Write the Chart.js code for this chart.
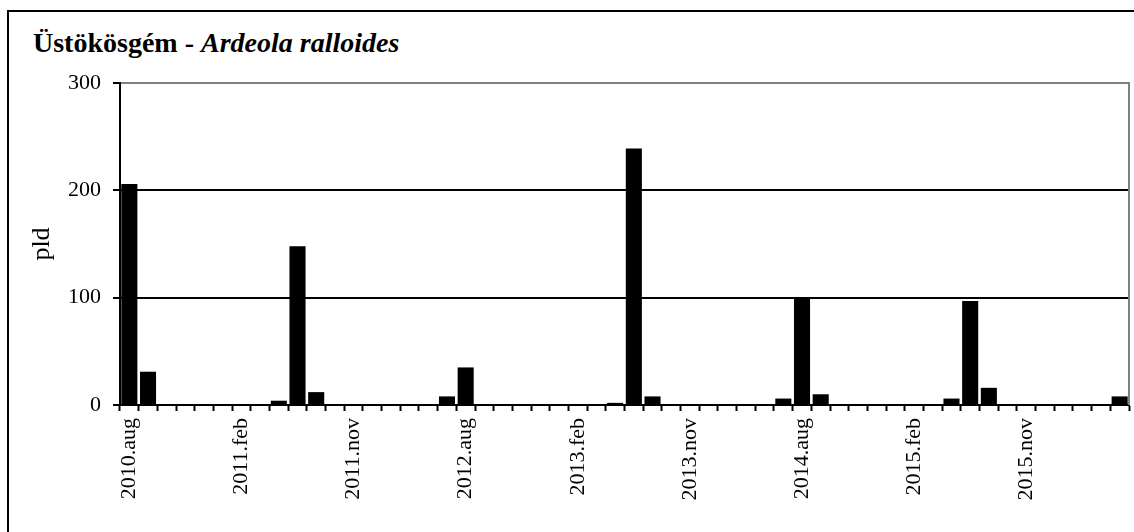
<!DOCTYPE html>
<html><head><meta charset="utf-8">
<script src="https://cdn.jsdelivr.net/npm/chart.js@4"></script>
<style>
html,body{margin:0;padding:0;width:1134px;height:532px;overflow:hidden;background:#fff}
#wrap{position:relative;width:1134px;height:532px}
#frame{position:absolute;left:7px;top:10px;width:1200px;height:600px;border:2px solid #000;box-sizing:border-box}
#title{position:absolute;left:33px;top:29px;font-family:"Liberation Serif";font-weight:bold;font-size:28px;line-height:28px;white-space:nowrap;color:#000}
canvas{position:absolute;left:0;top:0}
</style></head>
<body><div id="wrap"><div id="frame"></div><div id="title">Üstökösgém - <i>Ardeola ralloides</i></div><canvas id="c" width="1134" height="532"></canvas></div>
<script>
const tickLabels = ['2010.aug','2011.feb','2011.nov','2012.aug','2013.feb','2013.nov','2014.aug','2015.feb','2015.nov'];
const labelStep = 6;
const counts = [
  206, 31, 0, 0, 0, 0, 0, 0, 4, 148,
  12, 0, 0, 0, 0, 0, 0, 8, 35, 0,
  0, 0, 0, 0, 0, 0, 2, 239, 8, 0,
  0, 0, 0, 0, 0, 6, 99, 10, 0, 0,
  0, 0, 0, 0, 6, 97, 16, 0, 0, 0,
  0, 0, 0, 8
];
const yTicks = [0, 100, 200, 300];
const categories = counts.map((_, i) => i % labelStep === 0 ? (tickLabels[i / labelStep] || '') : '');

const frameRight = {
  id: 'frameRight',
  afterDraw(chart) {
    const {ctx, chartArea: a} = chart;
    ctx.save();
    ctx.strokeStyle = '#808080';
    ctx.lineWidth = 2;
    ctx.beginPath();
    ctx.moveTo(a.right, a.top - 1);
    ctx.lineTo(a.right, a.bottom);
    ctx.stroke();
    ctx.restore();
  }
};

const serif = 'Liberation Serif, "Times New Roman", serif';

new Chart(document.getElementById('c'), {
  type: 'bar',
  data: {
    labels: categories,
    datasets: [{ data: counts, backgroundColor: '#000', borderWidth: 0, barPercentage: 0.86, categoryPercentage: 1 }]
  },
  options: {
    responsive: false,
    animation: false,
    devicePixelRatio: 1,
    layout: { padding: { top: 83, right: 5, left: 0, bottom: 0 } },
    plugins: { legend: { display: false }, tooltip: { enabled: false }, title: { display: false } },
    scales: {
      x: {
        afterFit(s) { s.height = 127; s.paddingLeft = 0; s.paddingRight = 0; },
        grid: { drawOnChartArea: false, drawTicks: true, tickLength: 6, tickColor: '#000', tickWidth: 2, offset: true },
        border: { color: '#000', width: 2 },
        ticks: { autoSkip: false, minRotation: 90, maxRotation: 90, padding: 7, color: '#000', font: { family: serif, size: 22 } }
      },
      y: {
        min: 0, max: 300,
        afterFit(s) { s.width = 120; },
        afterBuildTicks(s) { s.ticks = yTicks.map(v => ({ value: v })); },
        grid: { color: c => (c.tick && c.tick.value === 300) ? '#808080' : '#000', lineWidth: 2, tickLength: 7, tickColor: '#000', tickWidth: 2 },
        border: { color: '#000', width: 2 },
        ticks: { padding: 12, color: '#000', font: { family: serif, size: 22 } },
        title: { display: true, text: 'pld', color: '#000', font: { family: serif, size: 26 }, padding: { top: 27 } }
      }
    }
  },
  plugins: [frameRight]
});
</script>
</body></html>
